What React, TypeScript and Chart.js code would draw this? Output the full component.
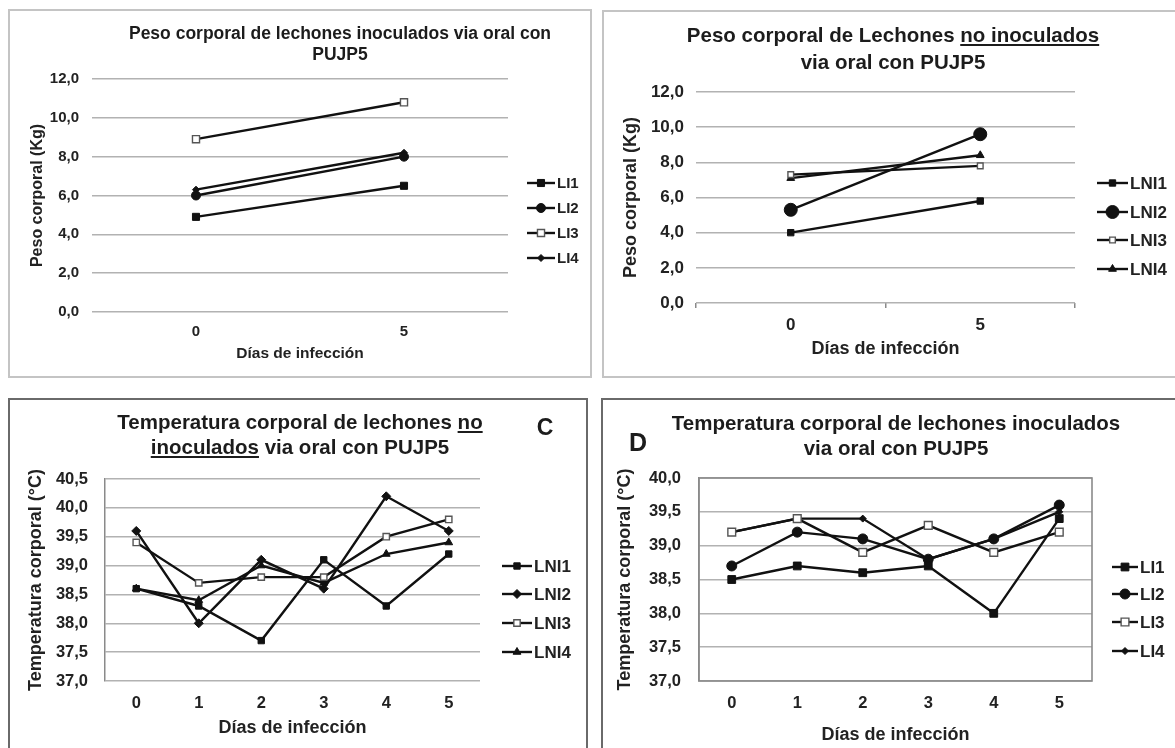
import React, { useEffect, useRef } from 'react';
import { Chart, registerables } from 'chart.js';
import { drawPoint } from 'chart.js/helpers';

Chart.register(...registerables);

// ---------- DATA ----------
const weightDays = ['0', '5'];
const tempDays = ['0', '1', '2', '3', '4', '5'];

// A: Peso corporal lechones inoculados
const weightLI1 = [4.9, 6.5];
const weightLI2 = [6.0, 8.0];
const weightLI3 = [8.9, 10.8];
const weightLI4 = [6.3, 8.2];

// B: Peso corporal lechones no inoculados
const weightLNI1 = [4.0, 5.8];
const weightLNI2 = [5.3, 9.6];
const weightLNI3 = [7.3, 7.8];
const weightLNI4 = [7.1, 8.4];

// C: Temperatura lechones no inoculados
const tempLNI1 = [38.6, 38.3, 37.7, 39.1, 38.3, 39.2];
const tempLNI2 = [39.6, 38.0, 39.1, 38.6, 40.2, 39.6];
const tempLNI3 = [39.4, 38.7, 38.8, 38.8, 39.5, 39.8];
const tempLNI4 = [38.6, 38.4, 39.0, 38.7, 39.2, 39.4];

// D: Temperatura lechones inoculados
const tempLI1 = [38.5, 38.7, 38.6, 38.7, 38.0, 39.4];
const tempLI2 = [38.7, 39.2, 39.1, 38.8, 39.1, 39.6];
const tempLI3 = [39.2, 39.4, 38.9, 39.3, 38.9, 39.2];
const tempLI4 = [39.2, 39.4, 39.4, 38.8, 39.1, 39.5];

const labelsLI = ['LI1', 'LI2', 'LI3', 'LI4'];
const labelsLNI = ['LNI1', 'LNI2', 'LNI3', 'LNI4'];

const FONT = '"Liberation Sans", Arial, Helvetica, sans-serif';
const LINE = '#111111';
const GRID = '#b2b2b2';
const TEXT = '#222222';

type Rect = { x: number; y: number; w: number; h: number };
type Area = { l: number; t: number; r: number; b: number };
type Marker = { style: string; radius: number; open?: boolean };

type PanelCfg = {
  canvas: Rect;
  area: Area;
  labels: string[];
  names: string[];
  series: number[][];
  markers: Marker[];
  yMin: number;
  yMax: number;
  yStep: number;
  yTitle: string;
  yTitleX: number;
  yTitleSize: number;
  yTickRight: number;
  tickSize: number;
  xTitleSize: number;
  xTickY: number;
  xTitle: string;
  xTitleY: number;
  xTickMarks: boolean;
  yBorder: boolean;
  box: boolean;
  legend: { x1: number; x2: number; tx: number; ys: number[]; size: number };
};

const fmt = (v: number) => v.toFixed(1).replace('.', ',');

const legendPlugin = {
  id: 'sideLegend',
  afterDraw(chart: any, _args: any, opts: any) {
    if (!opts || !opts.ys) return;
    const ctx = chart.ctx;
    const ox = opts.ox, oy = opts.oy;
    chart.data.datasets.forEach((ds: any, i: number) => {
      const y = opts.ys[i] - oy;
      const x1 = opts.x1 - ox, x2 = opts.x2 - ox;
      ctx.save();
      ctx.strokeStyle = LINE;
      ctx.lineWidth = 2.4;
      ctx.beginPath();
      ctx.moveTo(x1, y);
      ctx.lineTo(x2, y);
      ctx.stroke();
      ctx.fillStyle = ds.pointBackgroundColor;
      ctx.strokeStyle = ds.pointBorderColor;
      ctx.lineWidth = ds.pointBorderWidth;
      drawPoint(ctx, { pointStyle: ds.pointStyle, radius: ds.pointRadius, rotation: 0, borderWidth: ds.pointBorderWidth }, (x1 + x2) / 2, y);
      ctx.fillStyle = TEXT;
      ctx.font = `bold ${opts.size}px ${FONT}`;
      ctx.textAlign = 'left';
      ctx.textBaseline = 'middle';
      ctx.fillText(ds.label, opts.tx - ox, y + 1);
      ctx.restore();
    });
  },
};

const boxPlugin = {
  id: 'plotBox',
  beforeDatasetsDraw(chart: any, _args: any, opts: any) {
    if (!opts || !opts.show) return;
    const { left, top, right, bottom } = chart.chartArea;
    const ctx = chart.ctx;
    ctx.save();
    ctx.strokeStyle = '#8a8a8a';
    ctx.lineWidth = 1.6;
    ctx.strokeRect(left, top, right - left, bottom - top);
    ctx.restore();
  },
};

function ChartPanel({ cfg }: { cfg: PanelCfg }) {
  const ref = useRef<HTMLCanvasElement | null>(null);
  useEffect(() => {
    if (!ref.current) return;
    const c = cfg.canvas;
    const a = cfg.area;
    const lhY = cfg.yTitleSize * 1.2;
    const lhX = cfg.xTitleSize * 1.2;
    const lhTick = cfg.tickSize * 1.2;
    const yScaleLeft = cfg.yTitleX - lhY / 2;
    const xScaleBottom = cfg.xTitleY + lhX / 2;
    const tickLen = cfg.xTickMarks ? 5 : 0;
    const xPad = cfg.xTickY - a.b - tickLen - lhTick / 2;

    const datasets = cfg.series.map((data, i) => {
      const m = cfg.markers[i];
      return {
        label: cfg.names[i],
        data,
        borderColor: LINE,
        borderWidth: 2.4,
        pointStyle: m.style,
        pointRadius: m.radius,
        pointBackgroundColor: m.open ? '#ffffff' : LINE,
        pointBorderColor: m.open ? '#555555' : LINE,
        pointBorderWidth: m.open ? 1.4 : 1,
        tension: 0,
        fill: false,
      };
    });

    const chart = new Chart(ref.current, {
      type: 'line',
      data: { labels: cfg.labels, datasets },
      plugins: [legendPlugin, boxPlugin],
      options: {
        responsive: false,
        animation: false,
        devicePixelRatio: 1,
        layout: {
          padding: {
            left: yScaleLeft - c.x,
            top: a.t - c.y,
            right: c.x + c.w - a.r,
            bottom: c.y + c.h - xScaleBottom,
          },
        },
        plugins: {
          legend: { display: false },
          title: { display: false },
          tooltip: { enabled: false },
          sideLegend: { ...cfg.legend, ox: c.x, oy: c.y },
          plotBox: { show: cfg.box },
        } as any,
        scales: {
          x: {
            type: 'category',
            offset: true,
            grid: {
              display: cfg.xTickMarks,
              drawOnChartArea: false,
              drawTicks: cfg.xTickMarks,
              tickLength: 5,
              offset: true,
              color: '#8a8a8a',
              lineWidth: 1.5,
            },
            border: { display: false },
            ticks: {
              color: TEXT,
              padding: xPad,
              font: { family: FONT, size: cfg.tickSize, weight: 'bold' },
              maxRotation: 0,
            },
            title: {
              display: true,
              text: cfg.xTitle,
              color: TEXT,
              padding: 0,
              font: { family: FONT, size: cfg.xTitleSize, weight: 'bold' },
            },
            afterFit: (s: any) => {
              s.height = xScaleBottom - a.b;
            },
          },
          y: {
            min: cfg.yMin,
            max: cfg.yMax,
            grid: {
              color: GRID,
              lineWidth: 1.5,
              drawTicks: false,
            },
            border: { display: cfg.yBorder, color: '#8a8a8a', width: 1.5 },
            ticks: {
              stepSize: cfg.yStep,
              color: TEXT,
              padding: a.l - cfg.yTickRight,
              font: { family: FONT, size: cfg.tickSize, weight: 'bold' },
              callback: (v: any) => fmt(Number(v)),
            },
            title: {
              display: true,
              text: cfg.yTitle,
              color: TEXT,
              padding: 0,
              font: { family: FONT, size: cfg.yTitleSize, weight: 'bold' },
            },
            afterFit: (s: any) => {
              s.width = a.l - yScaleLeft;
            },
          },
        },
      } as any,
    });
    return () => chart.destroy();
  }, [cfg]);
  const c = cfg.canvas;
  return (
    <canvas
      ref={ref}
      width={c.w}
      height={c.h}
      style={{ position: 'absolute', left: c.x, top: c.y, width: c.w, height: c.h }}
    />
  );
}

const panelA: PanelCfg = {
  canvas: { x: 10, y: 11, w: 580, h: 365 },
  area: { l: 92, t: 79, r: 508, b: 312 },
  labels: weightDays,
  names: labelsLI,
  series: [weightLI1, weightLI2, weightLI3, weightLI4],
  markers: [
    { style: 'rect', radius: 5 },
    { style: 'circle', radius: 4.5 },
    { style: 'rect', radius: 5, open: true },
    { style: 'rectRot', radius: 3.5 },
  ],
  yMin: 0, yMax: 12, yStep: 2,
  yTitle: 'Peso corporal (Kg)', yTitleX: 38, yTitleSize: 16, yTickRight: 79,
  tickSize: 15, xTitleSize: 15.5,
  xTickY: 332, xTitle: 'Días de infección', xTitleY: 354,
  xTickMarks: false, yBorder: false, box: false,
  legend: { x1: 527, x2: 555, tx: 557, ys: [183, 208, 233, 258], size: 15 },
};

const panelB: PanelCfg = {
  canvas: { x: 604, y: 12, w: 571, h: 364 },
  area: { l: 696, t: 92, r: 1075, b: 303 },
  labels: weightDays,
  names: labelsLNI,
  series: [weightLNI1, weightLNI2, weightLNI3, weightLNI4],
  markers: [
    { style: 'rect', radius: 4.5 },
    { style: 'circle', radius: 6.5 },
    { style: 'rect', radius: 4, open: true },
    { style: 'triangle', radius: 4.5 },
  ],
  yMin: 0, yMax: 12, yStep: 2,
  yTitle: 'Peso corporal (Kg)', yTitleX: 631, yTitleSize: 18, yTickRight: 684,
  tickSize: 17, xTitleSize: 18,
  xTickY: 325, xTitle: 'Días de infección', xTitleY: 349,
  xTickMarks: true, yBorder: false, box: false,
  legend: { x1: 1097, x2: 1128, tx: 1130, ys: [183, 212, 240, 269], size: 17 },
};

const panelC: PanelCfg = {
  canvas: { x: 10, y: 400, w: 576, h: 348 },
  area: { l: 105, t: 479, r: 480, b: 681 },
  labels: tempDays,
  names: labelsLNI,
  series: [tempLNI1, tempLNI2, tempLNI3, tempLNI4],
  markers: [
    { style: 'rect', radius: 4.5 },
    { style: 'rectRot', radius: 4.5 },
    { style: 'rect', radius: 4.5, open: true },
    { style: 'triangle', radius: 4.5 },
  ],
  yMin: 37, yMax: 40.5, yStep: 0.5,
  yTitle: 'Temperatura corporal (°C)', yTitleX: 36, yTitleSize: 18, yTickRight: 88,
  tickSize: 16.5, xTitleSize: 18,
  xTickY: 703, xTitle: 'Días de infección', xTitleY: 728,
  xTickMarks: false, yBorder: true, box: false,
  legend: { x1: 502, x2: 532, tx: 534, ys: [566, 594, 623, 652], size: 17 },
};

const panelD: PanelCfg = {
  canvas: { x: 603, y: 400, w: 572, h: 348 },
  area: { l: 699, t: 478, r: 1092, b: 681 },
  labels: tempDays,
  names: labelsLI,
  series: [tempLI1, tempLI2, tempLI3, tempLI4],
  markers: [
    { style: 'rect', radius: 5.5 },
    { style: 'circle', radius: 5 },
    { style: 'rect', radius: 5.5, open: true },
    { style: 'rectRot', radius: 3.5 },
  ],
  yMin: 37, yMax: 40, yStep: 0.5,
  yTitle: 'Temperatura corporal (°C)', yTitleX: 625, yTitleSize: 18, yTickRight: 681,
  tickSize: 16.5, xTitleSize: 18,
  xTickY: 703, xTitle: 'Días de infección', xTitleY: 735,
  xTickMarks: false, yBorder: true, box: true,
  legend: { x1: 1112, x2: 1138, tx: 1140, ys: [567, 594, 622, 651], size: 17 },
};

function TitleLine({ cx, cy, size, children }: { cx: number; cy: number; size: number; children: any }) {
  return (
    <div
      style={{
        position: 'absolute',
        left: cx - 350,
        width: 700,
        top: cy - size * 0.6,
        height: size * 1.2,
        lineHeight: `${size * 1.2}px`,
        fontSize: size,
        fontFamily: FONT,
        fontWeight: 'bold',
        textAlign: 'center',
        color: '#1c1c1c',
        whiteSpace: 'nowrap',
      }}
    >
      {children}
    </div>
  );
}

function Border({ x1, y1, x2, y2, color }: { x1: number; y1: number; x2: number; y2: number; color: string }) {
  return (
    <div
      style={{
        position: 'absolute',
        left: x1,
        top: y1,
        width: x2 - x1,
        height: y2 - y1,
        border: `2px solid ${color}`,
        boxSizing: 'border-box',
      }}
    />
  );
}

export default function App() {
  useEffect(() => {
    document.body.style.margin = '0';
    document.body.style.background = '#ffffff';
  }, []);
  return (
    <div style={{ position: 'relative', width: 1175, height: 748, overflow: 'hidden', background: '#fff' }}>
      <Border x1={8} y1={9} x2={592} y2={378} color="#c4c4c4" />
      <Border x1={602} y1={10} x2={1180} y2={378} color="#c4c4c4" />
      <Border x1={8} y1={398} x2={588} y2={760} color="#6a6a6a" />
      <Border x1={601} y1={398} x2={1180} y2={760} color="#6a6a6a" />

      <ChartPanel cfg={panelA} />
      <ChartPanel cfg={panelB} />
      <ChartPanel cfg={panelC} />
      <ChartPanel cfg={panelD} />

      <TitleLine cx={340} cy={33} size={17.5}>Peso corporal de lechones inoculados via oral con</TitleLine>
      <TitleLine cx={340} cy={54} size={17.5}>PUJP5</TitleLine>

      <TitleLine cx={893} cy={35} size={20.5}>
        Peso corporal de Lechones <u>no inoculados</u>
      </TitleLine>
      <TitleLine cx={893} cy={62} size={20.5}>via oral con PUJP5</TitleLine>

      <TitleLine cx={300} cy={422} size={20.5}>
        Temperatura corporal de lechones <u>no</u>
      </TitleLine>
      <TitleLine cx={300} cy={447} size={20.5}>
        <u>inoculados</u> via oral con PUJP5
      </TitleLine>
      <TitleLine cx={545} cy={428} size={23}>C</TitleLine>

      <TitleLine cx={896} cy={423} size={20.5}>Temperatura corporal de lechones inoculados</TitleLine>
      <TitleLine cx={896} cy={448} size={20.5}>via oral con PUJP5</TitleLine>
      <TitleLine cx={638} cy={442} size={25}>D</TitleLine>
    </div>
  );
}
